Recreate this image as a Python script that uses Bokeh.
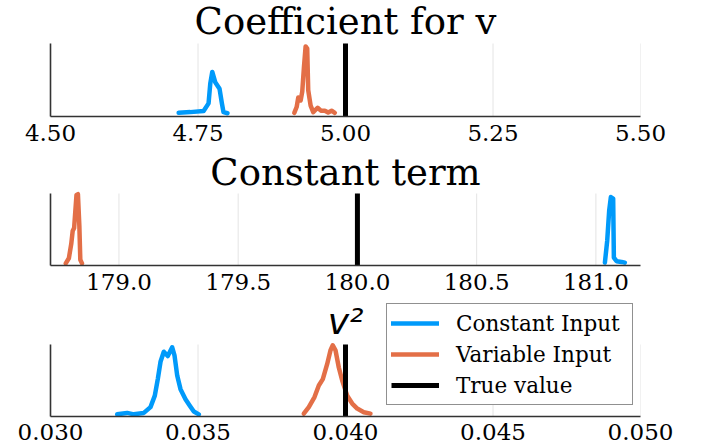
from bokeh.plotting import figure
from bokeh.layouts import column
from bokeh.models import Range1d, FixedTicker, Label, Legend, LegendItem, PrintfTickFormatter
from bokeh.embed import file_html
from bokeh.resources import INLINE

BLUE = "#009AFA"
ORANGE = "#E36F47"

# ---- Panel 1: Coefficient for v ----
coef_title = "Coefficient for v"
coef_xrange = [4.5, 5.5]
coef_ticks = [4.5, 4.75, 5.0, 5.25, 5.5]
coef_labels = ["4.50", "4.75", "5.00", "5.25", "5.50"]
coef_const_x = [4.7172, 4.737, 4.7595, 4.7679, 4.7708, 4.7742, 4.7792, 4.7865, 4.7905, 4.7932, 4.800]
coef_const_y = [0.05, 0.06, 0.076, 0.18, 0.45, 0.61, 0.47, 0.38, 0.18, 0.06, 0.045]
coef_var_x = [4.9132, 4.9172, 4.9199, 4.9240, 4.9267, 4.9296, 4.9324, 4.9351, 4.9368,
              4.9409, 4.9453, 4.9527, 4.9583, 4.9650, 4.9706, 4.9764, 4.9819]
coef_var_y = [0.05, 0.13, 0.26, 0.22, 0.34, 0.68, 0.96, 0.93, 0.36,
              0.15, 0.06, 0.12, 0.08, 0.08, 0.055, 0.08, 0.05]
coef_true = 5.0

# ---- Panel 2: Constant term ----
const_title = "Constant term"
const_xrange = [178.713, 181.187]
const_ticks = [179.0, 179.5, 180.0, 180.5, 181.0]
const_labels = ["179.0", "179.5", "180.0", "180.5", "181.0"]
const_const_x = [181.0377, 181.0473, 181.0556, 181.0628, 181.0724, 181.0753, 181.0866, 181.1075, 181.1213]
const_const_y = [0.04, 0.34, 0.76, 0.95, 0.93, 0.11, 0.06, 0.05, 0.04]
const_var_x = [178.777, 178.790, 178.800, 178.806, 178.812, 178.822, 178.828, 178.834, 178.838, 178.845]
const_var_y = [0.03, 0.10, 0.30, 0.48, 0.52, 0.98, 0.99, 0.55, 0.08, 0.03]
const_true = 180.0

# ---- Panel 3: v^2 ----
v2_title = "v²"
v2_xrange = [0.030, 0.050]
v2_ticks = [0.030, 0.035, 0.040, 0.045, 0.050]
v2_labels = ["0.030", "0.035", "0.040", "0.045", "0.050"]
v2_const_x = [0.032261, 0.032600, 0.032824, 0.033163, 0.033390, 0.033536, 0.033637, 0.033729, 0.033841,
              0.033976, 0.034125, 0.034203, 0.034295, 0.034407, 0.034576, 0.034722, 0.034858, 0.035027]
v2_const_y = [0.03, 0.05, 0.03, 0.05, 0.13, 0.29, 0.52, 0.76, 0.90,
              0.84, 0.96, 0.85, 0.57, 0.38, 0.24, 0.15, 0.07, 0.03]
v2_var_x = [0.038586, 0.038756, 0.038949, 0.039095, 0.039231, 0.039380, 0.039492, 0.039569,
            0.039661, 0.039773, 0.039888, 0.040058, 0.040227, 0.040397, 0.040620, 0.040847]
v2_var_y = [0.04, 0.13, 0.27, 0.43, 0.52, 0.73, 0.92, 0.99,
            0.92, 0.68, 0.50, 0.29, 0.18, 0.11, 0.06, 0.04]
v2_true = 0.040

legend_labels = ["Constant Input", "Variable Input", "True value"]
y_lo, y_hi = 0.0, 1.0   # density axis extent (normalised)

FRAME_W = 590


def make_panel(xr, ticks, labels, fmt, frame_h, data_h, bottom, standoff, title, title_y,
               title_font="DejaVu Serif", title_style="normal", title_size="37px"):
    # frame spans from the top of the figure down to the x axis; the density
    # axis (0..1) occupies only the lower data_h pixels of it
    p = figure(width=704, height=frame_h + bottom,
               x_range=Range1d(*xr), y_range=Range1d(y_lo, y_hi * frame_h / data_h),
               output_backend="svg", toolbar_location=None,
               min_border_left=50, min_border_right=64,
               min_border_top=0, min_border_bottom=bottom)
    p.outline_line_color = None
    p.background_fill_color = None
    p.border_fill_color = None
    p.xgrid.visible = False
    p.ygrid.visible = False

    # vertical grid lines at the ticks, limited to the density axis extent
    p.segment(x0=ticks, y0=[y_lo] * len(ticks), x1=ticks, y1=[y_hi] * len(ticks),
              line_color="#e4e4e4", line_width=1)

    xa = p.xaxis[0]
    xa.ticker = FixedTicker(ticks=ticks)
    xa.formatter = PrintfTickFormatter(format=fmt)
    xa.major_label_overrides = dict(zip(ticks, labels))
    xa.major_tick_line_color = None
    xa.major_tick_out = 0
    xa.major_tick_in = 0
    xa.minor_tick_line_color = None
    xa.axis_line_color = "#333333"
    xa.axis_line_width = 1.6
    xa.major_label_text_font = "DejaVu Serif"
    xa.major_label_text_font_size = "23px"
    xa.major_label_text_color = "black"
    xa.major_label_standoff = standoff

    ya = p.yaxis[0]
    ya.bounds = (y_lo, y_hi)
    ya.ticker = FixedTicker(ticks=[])
    ya.major_label_text_font_size = "0px"
    ya.major_tick_line_color = None
    ya.minor_tick_line_color = None
    ya.major_tick_out = 0
    ya.axis_line_color = "#333333"
    ya.axis_line_width = 1.6

    p.add_layout(Label(x=FRAME_W / 2, y=title_y, x_units="screen", y_units="screen",
                       text=title, text_align="center", text_baseline="alphabetic",
                       text_font=title_font, text_font_style=title_style,
                       text_font_size=title_size, text_color="black"))
    return p


def add_curves(p, cx, cy, vx, vy, true_x):
    rb = p.line(cx, cy, line_color=BLUE, line_width=4.5, line_join="round", line_cap="round")
    ro = p.line(vx, vy, line_color=ORANGE, line_width=4.5, line_join="round", line_cap="round")
    rk = p.line([true_x, true_x], [y_lo, y_hi], line_color="black", line_width=5)
    return rb, ro, rk


p1 = make_panel(coef_xrange, coef_ticks, coef_labels, "%.2f", 116, 73, 34, 8, coef_title, 95.0)
add_curves(p1, coef_const_x, coef_const_y, coef_var_x, coef_var_y, coef_true)

p2 = make_panel(const_xrange, const_ticks, const_labels, "%.1f", 115, 72, 34, 8, const_title, 93.0)
add_curves(p2, const_const_x, const_const_y, const_var_x, const_var_y, const_true)

p3 = make_panel(v2_xrange, v2_ticks, v2_labels, "%.3f", 117, 72, 31, 7, v2_title, 95.0,
                title_font="DejaVu Sans", title_style="italic", title_size="36px")
rb, ro, rk = add_curves(p3, v2_const_x, v2_const_y, v2_var_x, v2_var_y, v2_true)

leg = Legend(items=[LegendItem(label=legend_labels[0], renderers=[rb]),
                    LegendItem(label=legend_labels[1], renderers=[ro]),
                    LegendItem(label=legend_labels[2], renderers=[rk])],
             location=(336, 11))
leg.label_text_font = "DejaVu Serif"
leg.label_text_font_size = "21.5px"
leg.label_text_color = "black"
leg.glyph_width = 48
leg.glyph_height = 30
leg.label_height = 30
leg.label_width = 172
leg.spacing = 1
leg.padding = 4
leg.margin = 0
leg.label_standoff = 17
leg.border_line_color = "#222222"
leg.border_line_width = 1
leg.background_fill_color = "white"
leg.background_fill_alpha = 1
p3.add_layout(leg)

layout = column(p1, p2, p3, spacing=0)
open("out.html", "w").write(file_html(layout, INLINE))
